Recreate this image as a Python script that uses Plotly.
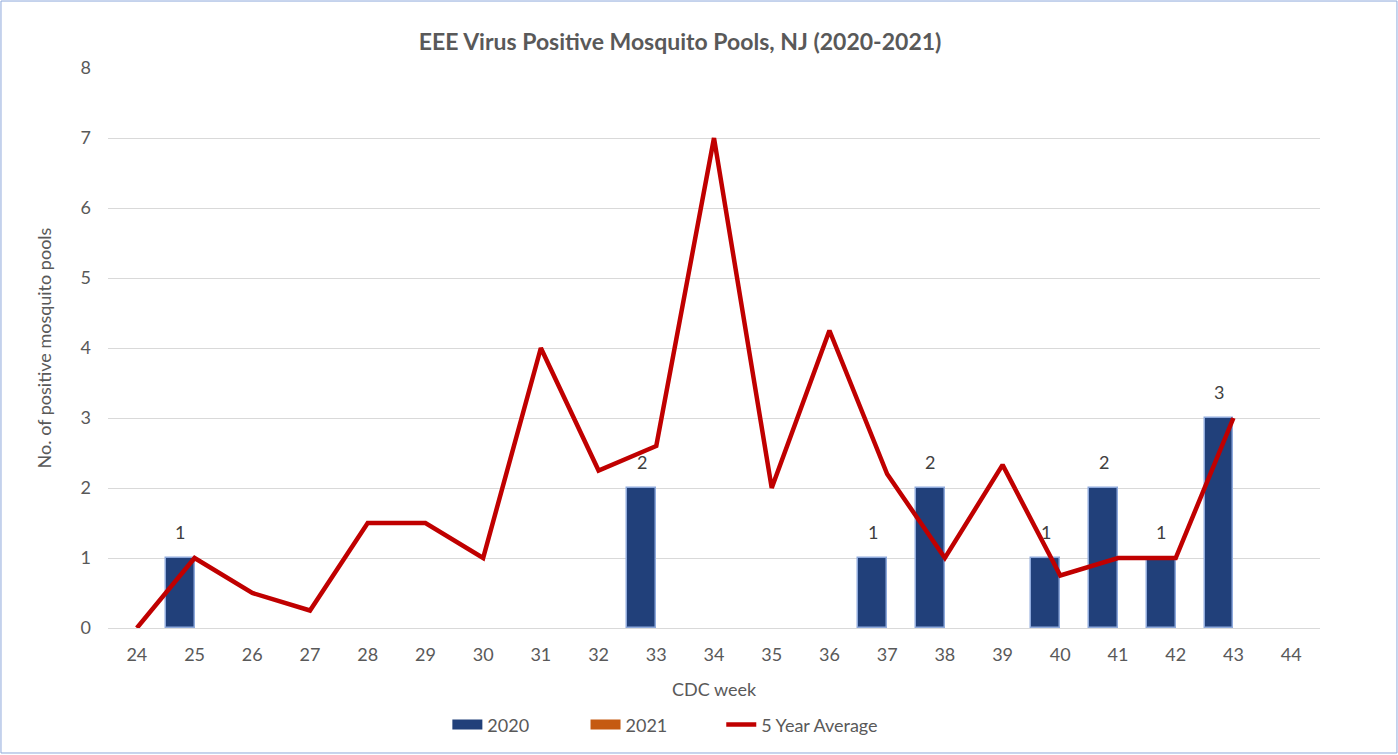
import plotly.graph_objects as go

weeks = [str(w) for w in range(24, 45)]
cases_2020 = [0, 1, 0, 0, 0, 0, 0, 0, 0, 2, 0, 0, 0, 1, 2, 0, 1, 2, 1, 3, 0]
cases_2021 = [0] * 21
five_year_avg = [0, 1, 0.5, 0.25, 1.5, 1.5, 1, 4, 2.25, 2.6, 7, 2, 4.25, 2.2, 1, 2.33, 0.75, 1, 1, 3, None]

FONT = "Lato, 'Open Sans', sans-serif"
GREY = "#595959"
C2020 = "#21407A"
C2021 = "#C55A11"
CAVG = "#C00000"

fig = go.Figure()
fig.add_trace(go.Bar(
    x=weeks, y=[v if v else None for v in cases_2020], name="2020", showlegend=False,
    marker=dict(color=C2020, line=dict(color="#8FAADC", width=1.5)),
))
fig.add_trace(go.Bar(
    x=weeks, y=[v if v else None for v in cases_2021], name="2021", showlegend=False,
    marker=dict(color=C2021, line=dict(width=0)),
))
fig.add_trace(go.Scatter(
    x=weeks, y=five_year_avg, name="5 Year Average", mode="lines", showlegend=False,
    line=dict(color=CAVG, width=4.5), connectgaps=False,
))
# legend entries
fig.add_trace(go.Scatter(x=[None], y=[None], mode="lines", name="2020", legend="legend",
                         line=dict(color=C2020, width=11)))
fig.add_trace(go.Scatter(x=[None], y=[None], mode="lines", name="2021", legend="legend2",
                         line=dict(color=C2021, width=11)))
fig.add_trace(go.Scatter(x=[None], y=[None], mode="lines", name="5 Year Average", legend="legend3",
                         line=dict(color=CAVG, width=4.5)))

annotations = []
for i, v in enumerate(cases_2020):
    if v:
        annotations.append(dict(
            x=i, y=v, xref="x", yref="y", text=str(v), showarrow=False,
            xshift=-14.5, yshift=26, font=dict(family=FONT, size=18, color="#404040"),
        ))

leg = dict(orientation="h", xanchor="left", y=-0.173, yanchor="middle",
           font=dict(size=18, color=GREY, family=FONT), bgcolor="rgba(0,0,0,0)")

fig.update_layout(
    width=1398, height=755,
    paper_bgcolor="white", plot_bgcolor="white",
    margin=dict(l=108, r=78, t=68, b=127, autoexpand=False),
    bargap=0, bargroupgap=0, barmode="group",
    title=dict(text="<b>EEE Virus Positive Mosquito Pools, NJ (2020-2021)</b>",
               x=0.472, xanchor="center", xref="paper", y=0.945, yanchor="middle",
               font=dict(family=FONT, size=23, color=GREY)),
    font=dict(family=FONT, size=18, color=GREY),
    xaxis=dict(type="category", categoryorder="array", categoryarray=weeks,
               range=[-0.5, len(weeks) - 0.5],
               title=dict(text="CDC week", font=dict(size=18, color=GREY), standoff=19),
               showgrid=False, showline=True, linecolor="#D9D9D9", linewidth=1,
               ticks="", ticklabelstandoff=10, tickfont=dict(size=18, color=GREY)),
    yaxis=dict(range=[0, 8], dtick=1, showgrid=True, gridcolor="#D9D9D9", gridwidth=1,
               zeroline=False, ticks="", ticklabelstandoff=16,
               title=dict(text="No. of positive mosquito pools", font=dict(size=18, color=GREY), standoff=24),
               tickfont=dict(size=18, color=GREY)),
    legend=dict(x=0.280, **leg),
    legend2=dict(x=0.394, **leg),
    legend3=dict(x=0.506, **leg),
    annotations=annotations,
    shapes=[dict(type="rect", xref="paper", yref="paper",
                 x0=-0.0883, x1=1.0635, y0=-0.2232, y1=1.1196,
                 line=dict(color="#8EA9DB", width=1), fillcolor="rgba(0,0,0,0)", layer="below")],
)

fig.write_html("out.html", config={"displayModeBar": False},
               post_script="document.body.style.margin='0';")
